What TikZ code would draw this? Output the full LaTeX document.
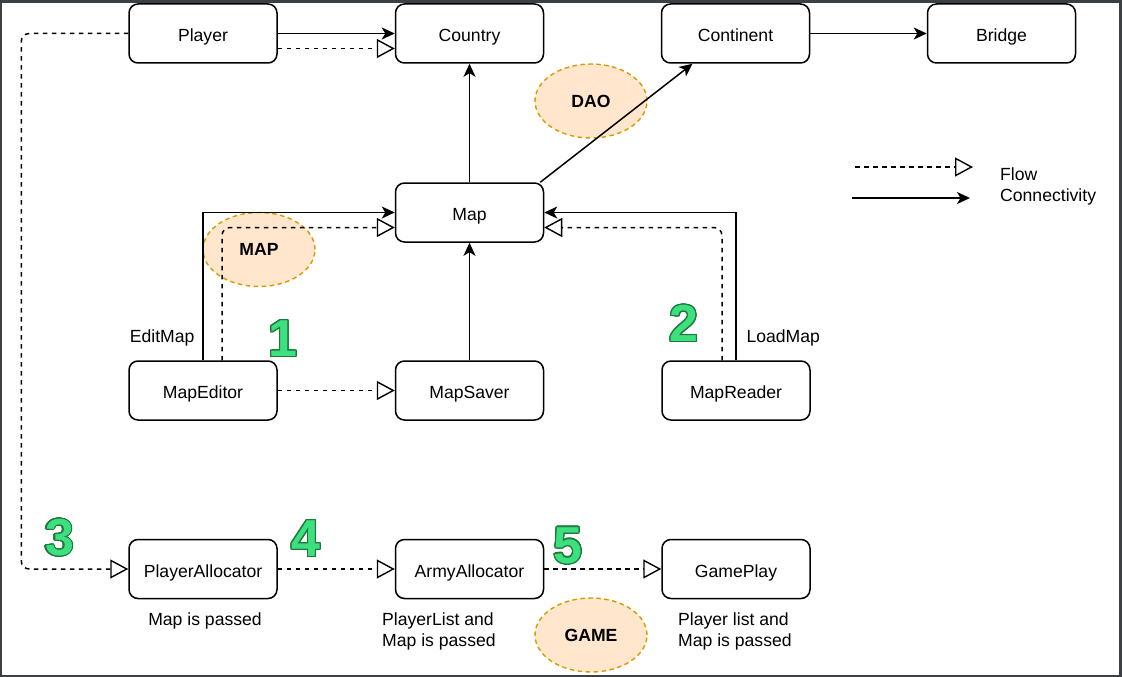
\documentclass[tikz,border=0pt]{standalone}
\usepackage{fontspec}
\setmainfont{Liberation Sans}
\usepackage{contour}
\usepackage{tikz}
\usetikzlibrary{arrows.meta,shapes.geometric}

\definecolor{framegray}{HTML}{3C3F43}
\definecolor{peach}{HTML}{FFE6CC}
\definecolor{peachline}{HTML}{D79B00}
\definecolor{numgreen}{HTML}{3DE07E}
\definecolor{numdark}{HTML}{1E7A3C}
\contourlength{1.1pt}
\contournumber{24}

\tikzset{
  classbox/.style={draw, rounded corners=9pt, line width=1.5pt, minimum width=148pt, minimum height=59pt, inner sep=0pt, text height=17pt, text depth=1pt},
  pkg/.style={ellipse, draw=peachline, fill=peach, line width=1.4pt, dash pattern=on 4.5pt off 3.5pt, minimum width=112pt, minimum height=74pt, font=\fontsize{17.6pt}{21pt}\selectfont\bfseries},
  conn/.style={line width=1.5pt, -{Stealth[length=13pt,width=12pt,inset=3.5pt]}},
  flow/.style={line width=1.5pt, dash pattern=on 4.5pt off 4.5pt, -{Triangle[open,fill=white,length=18pt,width=19pt,line width=1.4pt]}},
  stepnum/.style={font=\fontsize{52pt}{52pt}\selectfont\bfseries, text=numgreen, inner sep=0pt}
}

\begin{document}
\begin{tikzpicture}[x=1pt,y=-1pt,font=\fontsize{17.6pt}{21pt}\selectfont]
      % frame
      \useasboundingbox (0,0) rectangle (1122,677);
      \fill [framegray] (0,0) rectangle (1122,677);
      \fill [white] (2,3) rectangle (1119,675);

      % packages
      \node [pkg] (dao) at (591,101) {DAO};
      \node [pkg] (mappkg) at (259,249.5) {MAP};
      \node [pkg] (game) at (591,635) {GAME};

      % classes
      \node [classbox] (player) at (203,33.5) {Player};
      \node [classbox] (country) at (469.5,33.5) {Country};
      \node [classbox] (continent) at (735.5,33.5) {Continent};
      \node [classbox] (bridge) at (1001.5,33.5) {Bridge};
      \node [classbox] (map) at (469.5,212.5) {Map};
      \node [classbox] (editor) at (203,390.5) {MapEditor};
      \node [classbox] (saver) at (469.5,390.5) {MapSaver};
      \node [classbox] (reader) at (736,390.5) {MapReader};
      \node [classbox] (palloc) at (203,569) {PlayerAllocator};
      \node [classbox] (aalloc) at (469.5,569) {ArmyAllocator};
      \node [classbox] (gameplay) at (736,569) {GamePlay};

      % connectivity
      \draw [conn] (player.east) -- (country.west);
      \draw [conn] (continent.east) -- (bridge.west);
      \draw [conn] (map.north) -- (country.south);
      \draw [conn] ([xshift=-4pt]map.north east) -- ([xshift=-43pt]continent.south);
      \draw [conn] (editor.north) |- (map.west);
      \draw [conn] (reader.north) |- (map.east);
      \draw [conn] (saver.north) -- (map.south);

      % flow
      \draw [flow] ([yshift=-15pt]player.east) -- ([yshift=-15pt]country.west);
      \draw [flow, rounded corners=8pt] (player.west) -| ([xshift=-107pt]palloc.west) -- (palloc.west);
      \draw [flow, rounded corners=8pt] ([xshift=19pt]editor.north) |- ([yshift=-15pt]map.west);
      \draw [flow, rounded corners=8pt] ([xshift=-14pt]reader.north) |- ([yshift=-15pt]map.east);
      \draw [flow] (editor.east) -- (saver.west);
      \draw [flow] (palloc.east) -- (aalloc.west);
      \draw [flow] (aalloc.east) -- (gameplay.west);

      % labels
      \node [anchor=east] (editmap) at (198,338) {EditMap};
      \node [anchor=west] (loadmap) at (743,338) {LoadMap};
      \node (pallocnote) at (205,620.5) {Map is passed};
      \node [align=left, anchor=west, inner sep=0pt] (aallocnote) at (382,631) {PlayerList and\\Map is passed};
      \node [align=left, anchor=west, inner sep=0pt] (gamenote) at (678,631) {Player list and\\Map is passed};

      % steps
      \node [stepnum] (one) at (283,339) {\contour{numdark}{1}};
      \node [stepnum] (two) at (684,324) {\contour{numdark}{2}};
      \node [stepnum] (three) at (59.5,538) {\contour{numdark}{3}};
      \node [stepnum] (four) at (306,539) {\contour{numdark}{4}};
      \node [stepnum] (five) at (568,546) {\contour{numdark}{5}};

      % legend
      \coordinate (flowa) at (855,167);
      \coordinate (flowb) at (973,167);
      \coordinate (conna) at (852,198);
      \coordinate (connb) at (970,198);
      \draw [flow] (flowa) -- (flowb);
      \draw [conn] (conna) -- (connb);
      \node [anchor=west, inner sep=0pt] (flowtext) at (1000,174) {Flow};
      \node [anchor=west, inner sep=0pt] (conntext) at (1000,197) {Connectivity};
    \end{tikzpicture}
\end{document}
